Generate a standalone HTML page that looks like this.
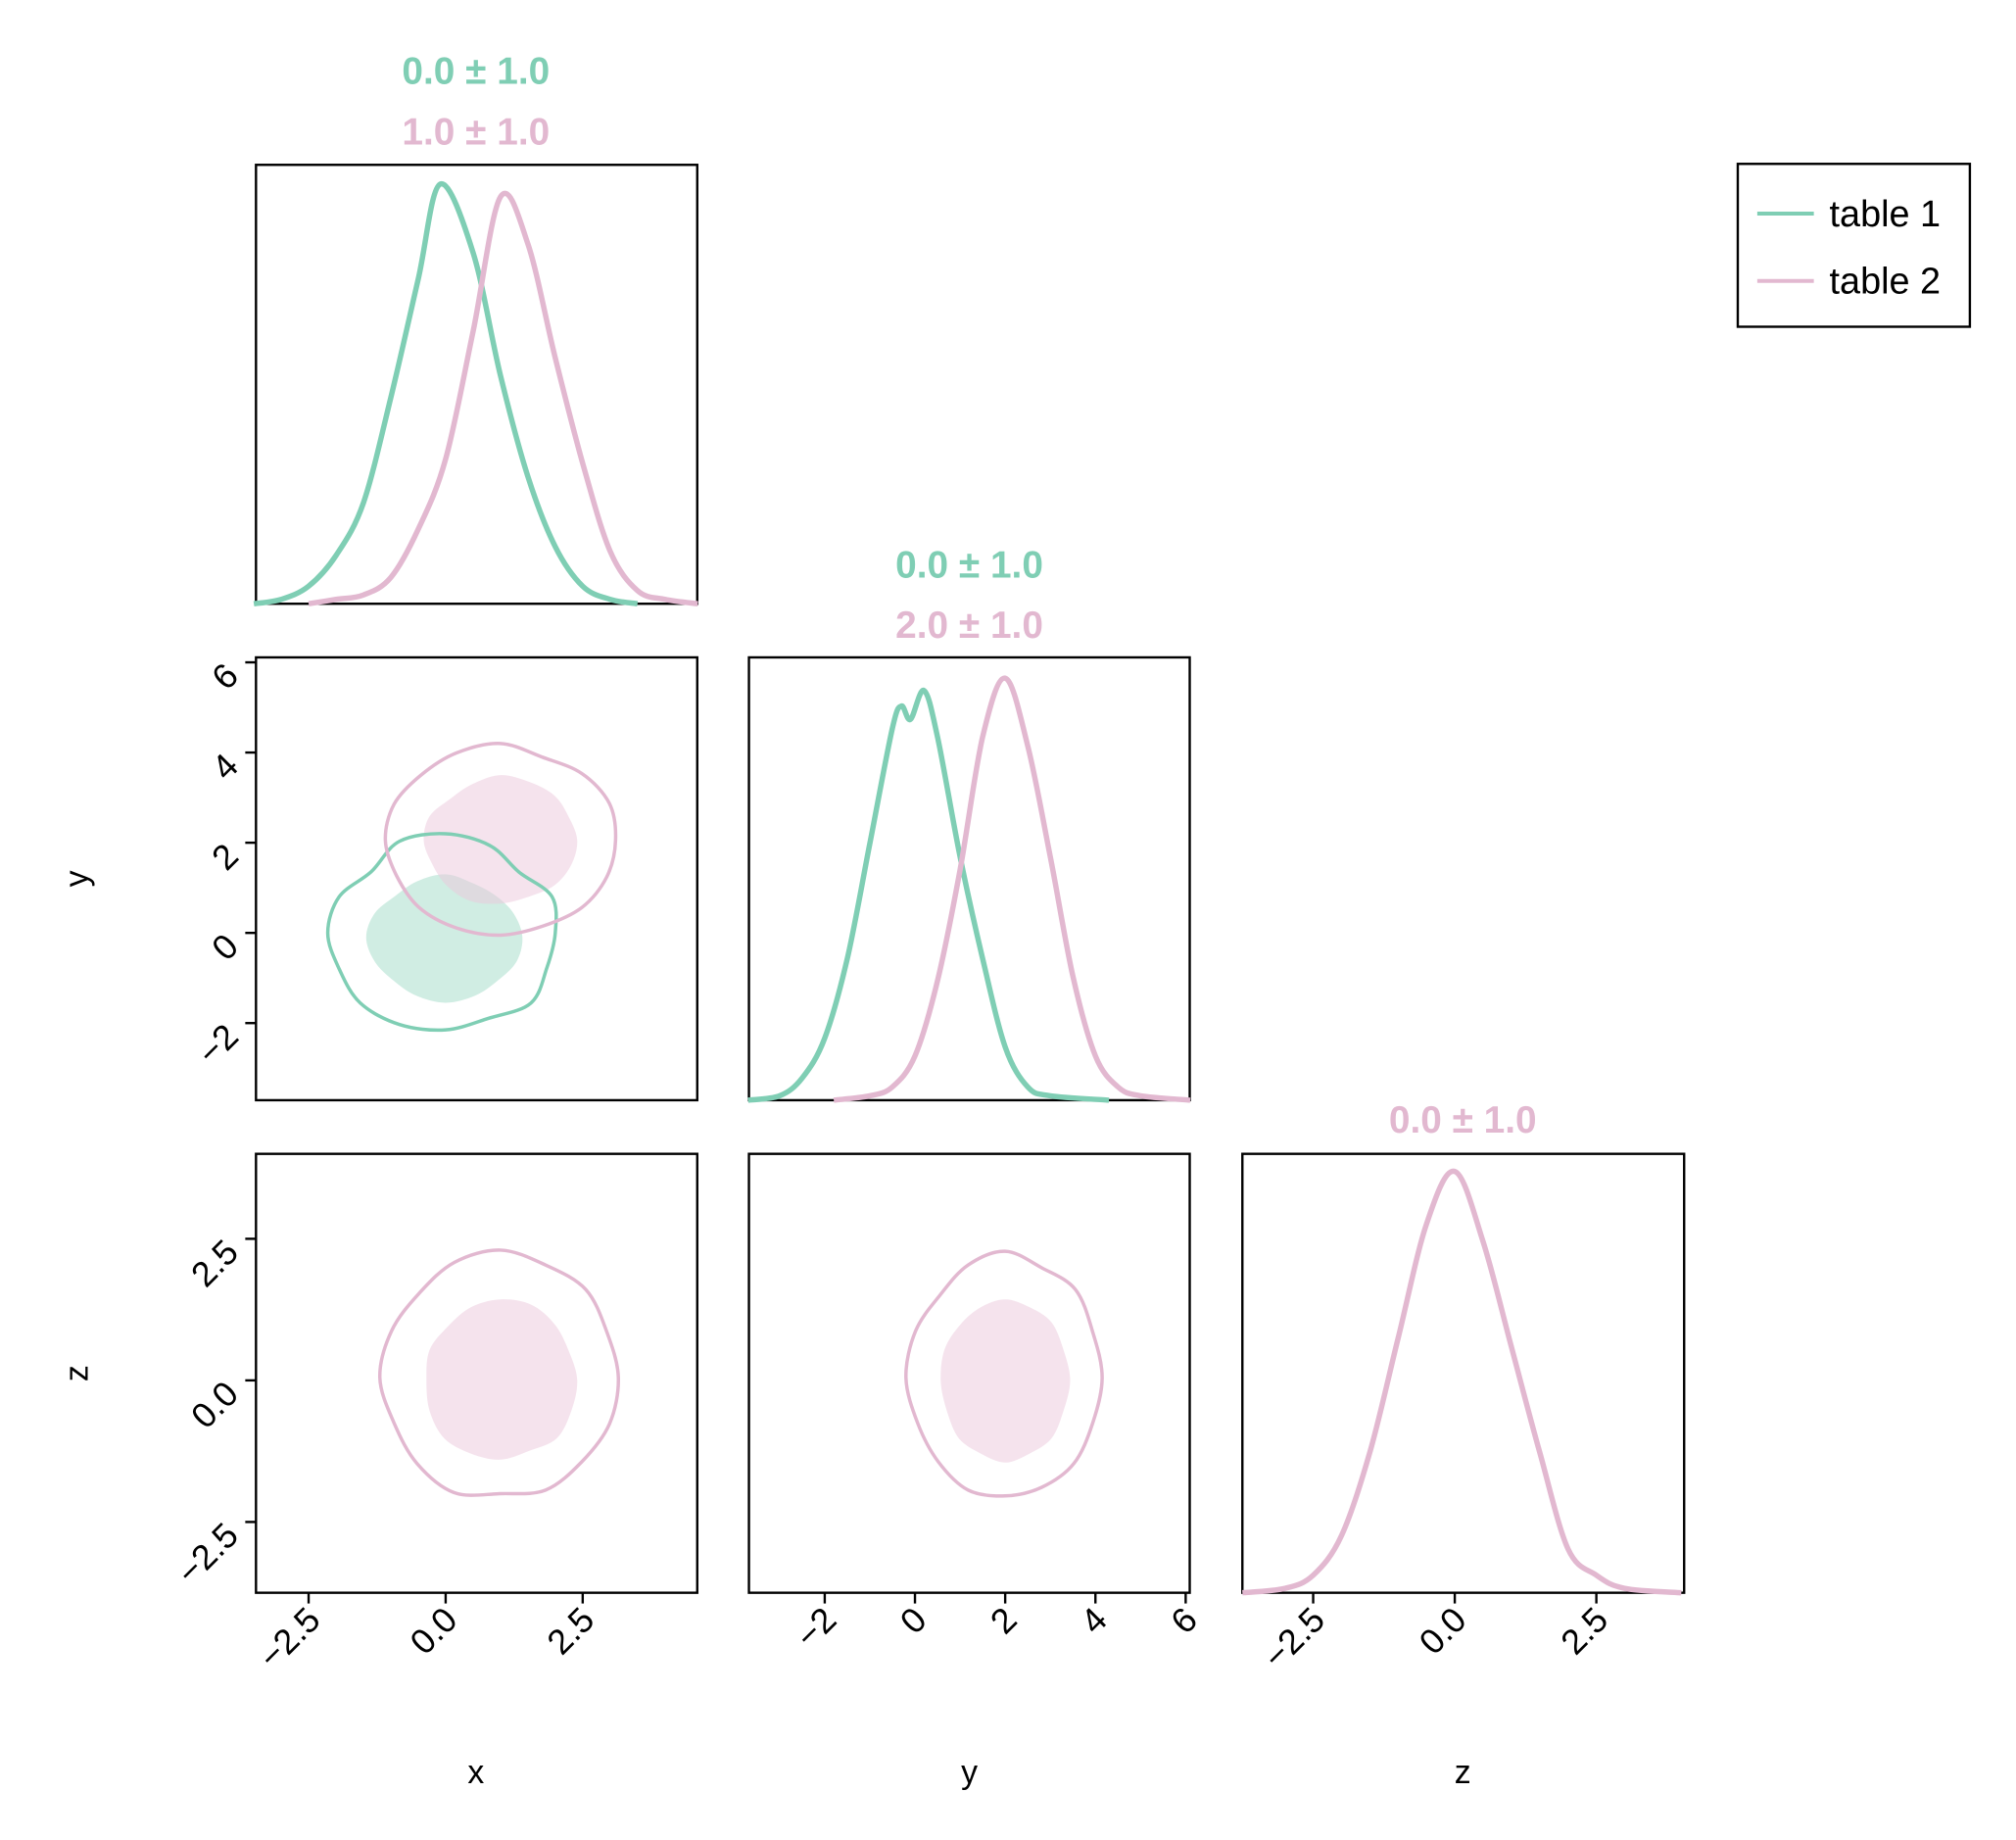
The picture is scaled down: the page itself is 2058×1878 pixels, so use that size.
<!DOCTYPE html>
<html><head><meta charset="utf-8"><style>
html,body{margin:0;padding:0;background:#fff;}
svg{display:block;font-family:"Liberation Sans",sans-serif;}
</style></head><body>
<svg id="chart" width="2058" height="1878" viewBox="0 0 2058 1878" xmlns="http://www.w3.org/2000/svg"><g id="root" transform="scale(0.9955)"></g></svg>
<script>
// ---- data ----
const xGreenX=[-3.5,-3,-2.5,-2,-1.5,-1,-0.5,-0.1,0.5,1,1.5,2,2.5,3,3.5];
const xGreenD=[0,0.01,0.04,0.11,0.23,0.47,0.74,0.956,0.80,0.52,0.29,0.13,0.04,0.01,0];
const xPinkX=[-2.5,-2,-1.5,-1,-0.5,0,0.5,1.0,1.5,2,2.5,3,3.5,4,4.6];
const xPinkD=[0,0.01,0.02,0.06,0.17,0.33,0.62,0.927,0.82,0.56,0.32,0.12,0.03,0.01,0];
const yGreenX=[-3.7,-3,-2.5,-2,-1.5,-1,-0.5,-0.3,-0.1,0.2,0.5,1,1.5,2,2.5,3,4.3];
const yGreenD=[0,0.01,0.05,0.14,0.32,0.58,0.84,0.89,0.86,0.925,0.82,0.55,0.32,0.12,0.03,0.01,0];
const yPinkX=[-1.8,-1,-0.5,0,0.5,1,1.5,2,2.5,3,3.5,4,4.5,5,6.1];
const yPinkD=[0,0.01,0.03,0.1,0.27,0.52,0.82,0.953,0.8,0.55,0.28,0.1,0.03,0.01,0];
const zPinkX=[-3.75,-3,-2.5,-2,-1.5,-1,-0.5,0,0.5,1,1.5,2,2.5,3,4];
const zPinkD=[0,0.01,0.04,0.13,0.32,0.58,0.84,0.96,0.8,0.56,0.32,0.1,0.04,0.01,0];
// contour radii at 16 angles (0deg = +x, counterclockwise), data units
const xyGreenOuterR=[2.0,2.1,1.9,2.1,2.2,2.2,1.92,2.1,2.15,2.1,2.2,2.2,2.15,2.05,2.2,2.0];
const xyGreenInnerR=[1.4,1.35,1.3,1.3,1.4,1.35,1.3,1.4,1.45,1.4,1.35,1.4,1.45,1.4,1.35,1.4];
const xyPinkOuterR=[2.1,2.15,2.1,2.0,2.15,2.1,2.05,2.1,2.1,2.05,2.1,2.1,2.1,2.05,2.1,2.1];
const xyPinkInnerR=[1.4,1.35,1.4,1.4,1.45,1.35,1.3,1.4,1.4,1.35,1.4,1.45,1.4,1.35,1.4,1.4];
const xzOuterR=[2.15,2.1,2.2,2.15,2.25,2.2,2.1,2.15,2.2,2.1,2.15,2.2,2.05,2.15,2.1,2.15];
const xzInnerR=[1.4,1.35,1.4,1.45,1.43,1.4,1.35,1.4,1.35,1.4,1.45,1.4,1.4,1.35,1.45,1.4];
const yzOuterR=[2.15,2.1,2.2,2.1,2.23,2.15,2.05,2.15,2.2,2.1,2.1,2.15,2.09,2.1,2.15,2.1];
const yzInnerR=[1.44,1.4,1.45,1.4,1.43,1.4,1.4,1.45,1.43,1.4,1.45,1.4,1.45,1.4,1.45,1.4];
const xTicks=[-2.5,0,2.5], xTickLabels=["−2.5","0.0","2.5"];
const yTicks=[-2,0,2,4,6], yTickLabels=["−2","0","2","4","6"];
const zTicks=[-2.5,0,2.5], zTickLabels=["−2.5","0.0","2.5"];

const G="#7fceb4", P="#e2b8d0", GF="rgba(150,215,192,0.45)", PF="rgba(236,200,220,0.5)";
const svg=document.getElementById('root');
const NS="http://www.w3.org/2000/svg";
function mk(tag,attrs,parent){const e=document.createElementNS(NS,tag);for(const k in attrs)e.setAttribute(k,attrs[k]);(parent||svg).appendChild(e);return e;}

const cols=[[262.5,715],[768,1220],[1274,1727]];
const rows=[[169,619],[674,1128],[1183,1633]];
const ranges={x:[-3.46,4.59],y:[-3.68,6.09],z:[-3.75,4.05]};
const rangesV={y:[-3.71,6.11],z:[-3.75,4.0]};
function sx(c,v,r){return cols[c][0]+(v-r[0])/(r[1]-r[0])*(cols[c][1]-cols[c][0]);}
function sy(rw,v,r){return rows[rw][1]-(v-r[0])/(r[1]-r[0])*(rows[rw][1]-rows[rw][0]);}

function frame(c,rw,name){const g=mk('g',{});
 mk('rect',{x:cols[c][0],y:rows[rw][0],width:cols[c][1]-cols[c][0],height:rows[rw][1]-rows[rw][0],fill:'none',stroke:'#000','stroke-width':2.4},g);return g;}

function smoothOpen(pts){let d='M'+pts[0][0].toFixed(1)+','+pts[0][1].toFixed(1);const n=pts.length;
 for(let i=0;i<n-1;i++){const p0=pts[Math.max(i-1,0)],p1=pts[i],p2=pts[i+1],p3=pts[Math.min(i+2,n-1)];
  const c1=[p1[0]+(p2[0]-p0[0])/6,p1[1]+(p2[1]-p0[1])/6],c2=[p2[0]-(p3[0]-p1[0])/6,p2[1]-(p3[1]-p1[1])/6];
  d+='C'+c1[0].toFixed(1)+','+c1[1].toFixed(1)+' '+c2[0].toFixed(1)+','+c2[1].toFixed(1)+' '+p2[0].toFixed(1)+','+p2[1].toFixed(1);}
 return d;}
function kde(c,rw,xs,ds,col,r,name){const pts=xs.map((x,i)=>[sx(c,x,r),sy(rw,ds[i],[0,1])]);
 const p=mk('path',{d:smoothOpen(pts),fill:'none',stroke:col,'stroke-width':5.5,'stroke-linejoin':'round'});}

function blob(c,rw,cx,cy,R,rx,ry,attrs,name){const n=R.length;const pts=[];for(let i=0;i<n;i++){const a=i/n*2*Math.PI;pts.push([sx(c,cx+R[i]*Math.cos(a),rx),sy(rw,cy+R[i]*Math.sin(a),ry)]);}
 let d='';for(let i=0;i<n;i++){const p0=pts[(i-1+n)%n],p1=pts[i],p2=pts[(i+1)%n],p3=pts[(i+2)%n];
  if(i===0)d+='M'+p1[0].toFixed(1)+','+p1[1].toFixed(1);
  const c1=[p1[0]+(p2[0]-p0[0])/6,p1[1]+(p2[1]-p0[1])/6],c2=[p2[0]-(p3[0]-p1[0])/6,p2[1]-(p3[1]-p1[1])/6];
  d+='C'+c1[0].toFixed(1)+','+c1[1].toFixed(1)+' '+c2[0].toFixed(1)+','+c2[1].toFixed(1)+' '+p2[0].toFixed(1)+','+p2[1].toFixed(1);}
 const e=mk('path',Object.assign({d:d+'Z'},attrs));}

function xticks(c,ticks,labels,r,name){ticks.forEach((t,i)=>{const x=sx(c,t,r),y=rows[2][1];
 mk('line',{x1:x,y1:y,x2:x,y2:y+11,stroke:'#000','stroke-width':2.4});
 const tx=mk('text',{x:x+14,y:y+30,'text-anchor':'end','font-size':36,transform:`rotate(-45 ${x+14} ${y+30})`});tx.textContent=labels[i];
 });}
function yticks(rw,ticks,labels,r,name){ticks.forEach((t,i)=>{const y=sy(rw,t,r),x=cols[0][0];
 mk('line',{x1:x,y1:y,x2:x-11,y2:y,stroke:'#000','stroke-width':2.4});
 const tx=mk('text',{x:x-16,y:y+16,'text-anchor':'end','font-size':36,transform:`rotate(-45 ${x-16} ${y+16})`});tx.textContent=labels[i];
 });}
function title(cx,y,t,col,name){const e=mk('text',{x:cx,y:y,'text-anchor':'middle','font-size':39,'font-weight':'bold',fill:col});e.textContent=t;}

// row1 x marginal
frame(0,0,'x-marginal-panel');
kde(0,0,xGreenX,xGreenD,G,ranges.x,'x-kde-table1');kde(0,0,xPinkX,xPinkD,P,ranges.x,'x-kde-table2');
title(488,86,'0.0 ± 1.0',G,'x-title-table1');title(488,148,'1.0 ± 1.0',P,'x-title-table2');
// row2 xy
blob(0,1,0,-0.1,xyGreenInnerR,ranges.x,rangesV.y,{fill:GF},'xy-green-inner-fill');
blob(0,1,1.0,2.05,xyPinkInnerR,ranges.x,rangesV.y,{fill:PF},'xy-pink-inner-fill');
blob(0,1,0,0,xyGreenOuterR,ranges.x,rangesV.y,{fill:'none',stroke:G,'stroke-width':3.5},'xy-green-contour');
blob(0,1,1.0,2.05,xyPinkOuterR,ranges.x,rangesV.y,{fill:'none',stroke:P,'stroke-width':3.5},'xy-pink-contour');
frame(0,1,'xy-panel');
frame(1,1,'y-marginal-panel');
kde(1,1,yGreenX,yGreenD,G,ranges.y,'y-kde-table1');kde(1,1,yPinkX,yPinkD,P,ranges.y,'y-kde-table2');
title(994,592,'0.0 ± 1.0',G,'y-title-table1');title(994,654,'2.0 ± 1.0',P,'y-title-table2');
// row3
blob(0,2,1.0,0,xzInnerR,ranges.x,rangesV.z,{fill:PF},'xz-inner-fill');
blob(0,2,1.0,0.05,xzOuterR,ranges.x,rangesV.z,{fill:'none',stroke:P,'stroke-width':3.5},'xz-contour');
frame(0,2,'xz-panel');
blob(1,2,2.0,0,yzInnerR,ranges.y,rangesV.z,{fill:PF},'yz-inner-fill');
blob(1,2,2.0,0.05,yzOuterR,ranges.y,rangesV.z,{fill:'none',stroke:P,'stroke-width':3.5},'yz-contour');
frame(1,2,'yz-panel');
frame(2,2,'z-marginal-panel');
kde(2,2,zPinkX,zPinkD,P,ranges.z,'z-kde-table2');
title(1500,1161,'0.0 ± 1.0',P,'z-title-table2');
// ticks
xticks(0,xTicks,xTickLabels,ranges.x,'x-axis');xticks(1,yTicks,yTickLabels,ranges.y,'y-axis-bottom');xticks(2,zTicks,zTickLabels,ranges.z,'z-axis-bottom');
yticks(1,yTicks,yTickLabels,rangesV.y,'y-axis-left');yticks(2,zTicks,zTickLabels,rangesV.z,'z-axis-left');
// axis labels
[['x',488,1828,0,'x-axis-title'],['y',994,1828,0,'y-axis-title-bottom'],['z',1500,1828,0,'z-axis-title-bottom'],['y',90,901,-90,'y-axis-title-left'],['z',90,1408,-90,'z-axis-title-left']].forEach(a=>{
 const e=mk('text',{x:a[1],y:a[2],'text-anchor':'middle','font-size':34,transform:`rotate(${a[3]} ${a[1]} ${a[2]})`});e.textContent=a[0];
 });
// legend
const lg=mk('g',{});
mk('rect',{x:1782,y:168,width:238,height:167,fill:'#fff',stroke:'#000','stroke-width':2.4},lg);
[['table 1',G,219],['table 2',P,288]].forEach((e,i)=>{const g=mk('g',{},lg);
 mk('line',{x1:1802,y1:e[2],x2:1860,y2:e[2],stroke:e[1],'stroke-width':4},g);
 const t=mk('text',{x:1876,y:e[2]+13,'font-size':38},g);t.textContent=e[0];});
</script>
</body></html>
